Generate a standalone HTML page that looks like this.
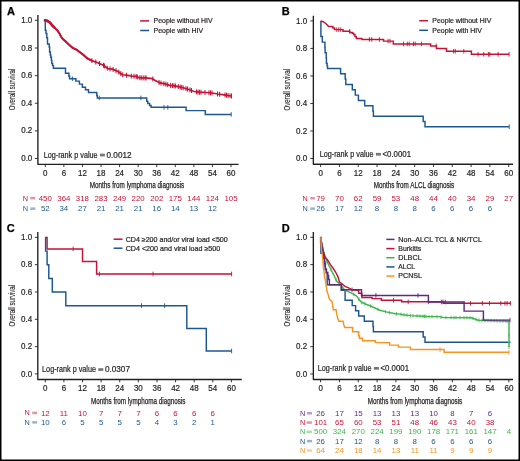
<!DOCTYPE html>
<html><head><meta charset="utf-8"><style>
html,body{margin:0;padding:0;background:#fff;}
#f{position:relative;width:520px;height:461px;overflow:hidden;background:#fff;}
svg{position:absolute;left:0;top:0;will-change:transform;}
text{font-family:"Liberation Sans",sans-serif;}
</style></head><body><div id="f">
<svg width="520" height="461" viewBox="0 0 520 461">
<rect x="0.6" y="0.6" width="518.8" height="459.8" fill="#fff" stroke="#000" stroke-width="1.8"/>
<text x="6.90" y="14.90" font-size="11.0" fill="#000" font-weight="bold" stroke="#000" stroke-width="0.25">A</text>
<text x="281.70" y="14.85" font-size="11.0" fill="#000" font-weight="bold" stroke="#000" stroke-width="0.25">B</text>
<text x="6.70" y="231.85" font-size="11.0" fill="#000" font-weight="bold" stroke="#000" stroke-width="0.25">C</text>
<text x="281.70" y="231.85" font-size="11.0" fill="#000" font-weight="bold" stroke="#000" stroke-width="0.25">D</text>
<path d="M37.90,15.00 V164.30 H238.60" fill="none" stroke="#231f20" stroke-width="1.35" stroke-linejoin="round"/>
<path d="M34.90,158.50 H37.90" stroke="#231f20" stroke-width="0.9"/>
<text x="32.30" y="161.10" font-size="8.3" fill="#231f20" text-anchor="end" textLength="11.11" lengthAdjust="spacingAndGlyphs" stroke="#231f20" stroke-width="0.2">0.0</text>
<path d="M34.90,130.88 H37.90" stroke="#231f20" stroke-width="0.9"/>
<text x="32.30" y="133.48" font-size="8.3" fill="#231f20" text-anchor="end" textLength="11.11" lengthAdjust="spacingAndGlyphs" stroke="#231f20" stroke-width="0.2">0.2</text>
<path d="M34.90,103.26 H37.90" stroke="#231f20" stroke-width="0.9"/>
<text x="32.30" y="105.86" font-size="8.3" fill="#231f20" text-anchor="end" textLength="11.11" lengthAdjust="spacingAndGlyphs" stroke="#231f20" stroke-width="0.2">0.4</text>
<path d="M34.90,75.64 H37.90" stroke="#231f20" stroke-width="0.9"/>
<text x="32.30" y="78.24" font-size="8.3" fill="#231f20" text-anchor="end" textLength="11.11" lengthAdjust="spacingAndGlyphs" stroke="#231f20" stroke-width="0.2">0.6</text>
<path d="M34.90,48.02 H37.90" stroke="#231f20" stroke-width="0.9"/>
<text x="32.30" y="50.62" font-size="8.3" fill="#231f20" text-anchor="end" textLength="11.11" lengthAdjust="spacingAndGlyphs" stroke="#231f20" stroke-width="0.2">0.8</text>
<path d="M34.90,20.40 H37.90" stroke="#231f20" stroke-width="0.9"/>
<text x="32.30" y="23.00" font-size="8.3" fill="#231f20" text-anchor="end" textLength="11.11" lengthAdjust="spacingAndGlyphs" stroke="#231f20" stroke-width="0.2">1.0</text>
<path d="M45.30,164.30 V167.10" stroke="#231f20" stroke-width="0.9"/>
<text x="45.30" y="176.10" font-size="8.3" fill="#231f20" text-anchor="middle" textLength="4.44" lengthAdjust="spacingAndGlyphs" stroke="#231f20" stroke-width="0.2">0</text>
<path d="M63.87,164.30 V167.10" stroke="#231f20" stroke-width="0.9"/>
<text x="63.87" y="176.10" font-size="8.3" fill="#231f20" text-anchor="middle" textLength="4.44" lengthAdjust="spacingAndGlyphs" stroke="#231f20" stroke-width="0.2">6</text>
<path d="M82.44,164.30 V167.10" stroke="#231f20" stroke-width="0.9"/>
<text x="82.44" y="176.10" font-size="8.3" fill="#231f20" text-anchor="middle" textLength="8.89" lengthAdjust="spacingAndGlyphs" stroke="#231f20" stroke-width="0.2">12</text>
<path d="M101.01,164.30 V167.10" stroke="#231f20" stroke-width="0.9"/>
<text x="101.01" y="176.10" font-size="8.3" fill="#231f20" text-anchor="middle" textLength="8.89" lengthAdjust="spacingAndGlyphs" stroke="#231f20" stroke-width="0.2">18</text>
<path d="M119.58,164.30 V167.10" stroke="#231f20" stroke-width="0.9"/>
<text x="119.58" y="176.10" font-size="8.3" fill="#231f20" text-anchor="middle" textLength="8.89" lengthAdjust="spacingAndGlyphs" stroke="#231f20" stroke-width="0.2">24</text>
<path d="M138.15,164.30 V167.10" stroke="#231f20" stroke-width="0.9"/>
<text x="138.15" y="176.10" font-size="8.3" fill="#231f20" text-anchor="middle" textLength="8.89" lengthAdjust="spacingAndGlyphs" stroke="#231f20" stroke-width="0.2">30</text>
<path d="M156.72,164.30 V167.10" stroke="#231f20" stroke-width="0.9"/>
<text x="156.72" y="176.10" font-size="8.3" fill="#231f20" text-anchor="middle" textLength="8.89" lengthAdjust="spacingAndGlyphs" stroke="#231f20" stroke-width="0.2">36</text>
<path d="M175.29,164.30 V167.10" stroke="#231f20" stroke-width="0.9"/>
<text x="175.29" y="176.10" font-size="8.3" fill="#231f20" text-anchor="middle" textLength="8.89" lengthAdjust="spacingAndGlyphs" stroke="#231f20" stroke-width="0.2">42</text>
<path d="M193.86,164.30 V167.10" stroke="#231f20" stroke-width="0.9"/>
<text x="193.86" y="176.10" font-size="8.3" fill="#231f20" text-anchor="middle" textLength="8.89" lengthAdjust="spacingAndGlyphs" stroke="#231f20" stroke-width="0.2">48</text>
<path d="M212.43,164.30 V167.10" stroke="#231f20" stroke-width="0.9"/>
<text x="212.43" y="176.10" font-size="8.3" fill="#231f20" text-anchor="middle" textLength="8.89" lengthAdjust="spacingAndGlyphs" stroke="#231f20" stroke-width="0.2">54</text>
<path d="M231.00,164.30 V167.10" stroke="#231f20" stroke-width="0.9"/>
<text x="231.00" y="176.10" font-size="8.3" fill="#231f20" text-anchor="middle" textLength="8.89" lengthAdjust="spacingAndGlyphs" stroke="#231f20" stroke-width="0.2">60</text>
<text x="137.00" y="187.60" font-size="8.5" fill="#231f20" text-anchor="middle" textLength="94.50" lengthAdjust="spacingAndGlyphs" stroke="#231f20" stroke-width="0.25">Months from lymphoma diagnosis</text>
<text transform="translate(14.60,89.45) rotate(-90)" x="0" y="0" font-size="9.3" fill="#231f20" stroke="#231f20" stroke-width="0.12" text-anchor="middle" textLength="41.5" lengthAdjust="spacingAndGlyphs">Overall survival</text>
<path d="M313.35,15.80 V164.20 H513.00" fill="none" stroke="#231f20" stroke-width="1.35" stroke-linejoin="round"/>
<path d="M310.35,158.50 H313.35" stroke="#231f20" stroke-width="0.9"/>
<text x="307.15" y="161.10" font-size="8.3" fill="#231f20" text-anchor="end" textLength="11.11" lengthAdjust="spacingAndGlyphs" stroke="#231f20" stroke-width="0.2">0.0</text>
<path d="M310.35,130.98 H313.35" stroke="#231f20" stroke-width="0.9"/>
<text x="307.15" y="133.58" font-size="8.3" fill="#231f20" text-anchor="end" textLength="11.11" lengthAdjust="spacingAndGlyphs" stroke="#231f20" stroke-width="0.2">0.2</text>
<path d="M310.35,103.46 H313.35" stroke="#231f20" stroke-width="0.9"/>
<text x="307.15" y="106.06" font-size="8.3" fill="#231f20" text-anchor="end" textLength="11.11" lengthAdjust="spacingAndGlyphs" stroke="#231f20" stroke-width="0.2">0.4</text>
<path d="M310.35,75.94 H313.35" stroke="#231f20" stroke-width="0.9"/>
<text x="307.15" y="78.54" font-size="8.3" fill="#231f20" text-anchor="end" textLength="11.11" lengthAdjust="spacingAndGlyphs" stroke="#231f20" stroke-width="0.2">0.6</text>
<path d="M310.35,48.42 H313.35" stroke="#231f20" stroke-width="0.9"/>
<text x="307.15" y="51.02" font-size="8.3" fill="#231f20" text-anchor="end" textLength="11.11" lengthAdjust="spacingAndGlyphs" stroke="#231f20" stroke-width="0.2">0.8</text>
<path d="M310.35,20.90 H313.35" stroke="#231f20" stroke-width="0.9"/>
<text x="307.15" y="23.50" font-size="8.3" fill="#231f20" text-anchor="end" textLength="11.11" lengthAdjust="spacingAndGlyphs" stroke="#231f20" stroke-width="0.2">1.0</text>
<path d="M320.60,164.20 V167.00" stroke="#231f20" stroke-width="0.9"/>
<text x="320.60" y="176.00" font-size="8.3" fill="#231f20" text-anchor="middle" textLength="4.44" lengthAdjust="spacingAndGlyphs" stroke="#231f20" stroke-width="0.2">0</text>
<path d="M339.41,164.20 V167.00" stroke="#231f20" stroke-width="0.9"/>
<text x="339.41" y="176.00" font-size="8.3" fill="#231f20" text-anchor="middle" textLength="4.44" lengthAdjust="spacingAndGlyphs" stroke="#231f20" stroke-width="0.2">6</text>
<path d="M358.22,164.20 V167.00" stroke="#231f20" stroke-width="0.9"/>
<text x="358.22" y="176.00" font-size="8.3" fill="#231f20" text-anchor="middle" textLength="8.89" lengthAdjust="spacingAndGlyphs" stroke="#231f20" stroke-width="0.2">12</text>
<path d="M377.03,164.20 V167.00" stroke="#231f20" stroke-width="0.9"/>
<text x="377.03" y="176.00" font-size="8.3" fill="#231f20" text-anchor="middle" textLength="8.89" lengthAdjust="spacingAndGlyphs" stroke="#231f20" stroke-width="0.2">18</text>
<path d="M395.84,164.20 V167.00" stroke="#231f20" stroke-width="0.9"/>
<text x="395.84" y="176.00" font-size="8.3" fill="#231f20" text-anchor="middle" textLength="8.89" lengthAdjust="spacingAndGlyphs" stroke="#231f20" stroke-width="0.2">24</text>
<path d="M414.65,164.20 V167.00" stroke="#231f20" stroke-width="0.9"/>
<text x="414.65" y="176.00" font-size="8.3" fill="#231f20" text-anchor="middle" textLength="8.89" lengthAdjust="spacingAndGlyphs" stroke="#231f20" stroke-width="0.2">30</text>
<path d="M433.46,164.20 V167.00" stroke="#231f20" stroke-width="0.9"/>
<text x="433.46" y="176.00" font-size="8.3" fill="#231f20" text-anchor="middle" textLength="8.89" lengthAdjust="spacingAndGlyphs" stroke="#231f20" stroke-width="0.2">36</text>
<path d="M452.27,164.20 V167.00" stroke="#231f20" stroke-width="0.9"/>
<text x="452.27" y="176.00" font-size="8.3" fill="#231f20" text-anchor="middle" textLength="8.89" lengthAdjust="spacingAndGlyphs" stroke="#231f20" stroke-width="0.2">42</text>
<path d="M471.08,164.20 V167.00" stroke="#231f20" stroke-width="0.9"/>
<text x="471.08" y="176.00" font-size="8.3" fill="#231f20" text-anchor="middle" textLength="8.89" lengthAdjust="spacingAndGlyphs" stroke="#231f20" stroke-width="0.2">48</text>
<path d="M489.89,164.20 V167.00" stroke="#231f20" stroke-width="0.9"/>
<text x="489.89" y="176.00" font-size="8.3" fill="#231f20" text-anchor="middle" textLength="8.89" lengthAdjust="spacingAndGlyphs" stroke="#231f20" stroke-width="0.2">54</text>
<path d="M508.70,164.20 V167.00" stroke="#231f20" stroke-width="0.9"/>
<text x="508.70" y="176.00" font-size="8.3" fill="#231f20" text-anchor="middle" textLength="8.89" lengthAdjust="spacingAndGlyphs" stroke="#231f20" stroke-width="0.2">60</text>
<text x="414.00" y="187.90" font-size="8.5" fill="#231f20" text-anchor="middle" textLength="80.30" lengthAdjust="spacingAndGlyphs" stroke="#231f20" stroke-width="0.25">Months from ALCL diagnosis</text>
<text transform="translate(290.05,89.70) rotate(-90)" x="0" y="0" font-size="9.3" fill="#231f20" stroke="#231f20" stroke-width="0.12" text-anchor="middle" textLength="41.5" lengthAdjust="spacingAndGlyphs">Overall survival</text>
<path d="M37.80,232.10 V379.50 H241.80" fill="none" stroke="#231f20" stroke-width="1.35" stroke-linejoin="round"/>
<path d="M34.80,373.90 H37.80" stroke="#231f20" stroke-width="0.9"/>
<text x="32.20" y="376.50" font-size="8.3" fill="#231f20" text-anchor="end" textLength="11.11" lengthAdjust="spacingAndGlyphs" stroke="#231f20" stroke-width="0.2">0.0</text>
<path d="M34.80,346.60 H37.80" stroke="#231f20" stroke-width="0.9"/>
<text x="32.20" y="349.20" font-size="8.3" fill="#231f20" text-anchor="end" textLength="11.11" lengthAdjust="spacingAndGlyphs" stroke="#231f20" stroke-width="0.2">0.2</text>
<path d="M34.80,319.30 H37.80" stroke="#231f20" stroke-width="0.9"/>
<text x="32.20" y="321.90" font-size="8.3" fill="#231f20" text-anchor="end" textLength="11.11" lengthAdjust="spacingAndGlyphs" stroke="#231f20" stroke-width="0.2">0.4</text>
<path d="M34.80,292.00 H37.80" stroke="#231f20" stroke-width="0.9"/>
<text x="32.20" y="294.60" font-size="8.3" fill="#231f20" text-anchor="end" textLength="11.11" lengthAdjust="spacingAndGlyphs" stroke="#231f20" stroke-width="0.2">0.6</text>
<path d="M34.80,264.70 H37.80" stroke="#231f20" stroke-width="0.9"/>
<text x="32.20" y="267.30" font-size="8.3" fill="#231f20" text-anchor="end" textLength="11.11" lengthAdjust="spacingAndGlyphs" stroke="#231f20" stroke-width="0.2">0.8</text>
<path d="M34.80,237.40 H37.80" stroke="#231f20" stroke-width="0.9"/>
<text x="32.20" y="240.00" font-size="8.3" fill="#231f20" text-anchor="end" textLength="11.11" lengthAdjust="spacingAndGlyphs" stroke="#231f20" stroke-width="0.2">1.0</text>
<path d="M45.30,379.50 V382.30" stroke="#231f20" stroke-width="0.9"/>
<text x="45.30" y="391.30" font-size="8.3" fill="#231f20" text-anchor="middle" textLength="4.44" lengthAdjust="spacingAndGlyphs" stroke="#231f20" stroke-width="0.2">0</text>
<path d="M63.91,379.50 V382.30" stroke="#231f20" stroke-width="0.9"/>
<text x="63.91" y="391.30" font-size="8.3" fill="#231f20" text-anchor="middle" textLength="4.44" lengthAdjust="spacingAndGlyphs" stroke="#231f20" stroke-width="0.2">6</text>
<path d="M82.52,379.50 V382.30" stroke="#231f20" stroke-width="0.9"/>
<text x="82.52" y="391.30" font-size="8.3" fill="#231f20" text-anchor="middle" textLength="8.89" lengthAdjust="spacingAndGlyphs" stroke="#231f20" stroke-width="0.2">12</text>
<path d="M101.13,379.50 V382.30" stroke="#231f20" stroke-width="0.9"/>
<text x="101.13" y="391.30" font-size="8.3" fill="#231f20" text-anchor="middle" textLength="8.89" lengthAdjust="spacingAndGlyphs" stroke="#231f20" stroke-width="0.2">18</text>
<path d="M119.74,379.50 V382.30" stroke="#231f20" stroke-width="0.9"/>
<text x="119.74" y="391.30" font-size="8.3" fill="#231f20" text-anchor="middle" textLength="8.89" lengthAdjust="spacingAndGlyphs" stroke="#231f20" stroke-width="0.2">24</text>
<path d="M138.35,379.50 V382.30" stroke="#231f20" stroke-width="0.9"/>
<text x="138.35" y="391.30" font-size="8.3" fill="#231f20" text-anchor="middle" textLength="8.89" lengthAdjust="spacingAndGlyphs" stroke="#231f20" stroke-width="0.2">30</text>
<path d="M156.96,379.50 V382.30" stroke="#231f20" stroke-width="0.9"/>
<text x="156.96" y="391.30" font-size="8.3" fill="#231f20" text-anchor="middle" textLength="8.89" lengthAdjust="spacingAndGlyphs" stroke="#231f20" stroke-width="0.2">36</text>
<path d="M175.57,379.50 V382.30" stroke="#231f20" stroke-width="0.9"/>
<text x="175.57" y="391.30" font-size="8.3" fill="#231f20" text-anchor="middle" textLength="8.89" lengthAdjust="spacingAndGlyphs" stroke="#231f20" stroke-width="0.2">42</text>
<path d="M194.18,379.50 V382.30" stroke="#231f20" stroke-width="0.9"/>
<text x="194.18" y="391.30" font-size="8.3" fill="#231f20" text-anchor="middle" textLength="8.89" lengthAdjust="spacingAndGlyphs" stroke="#231f20" stroke-width="0.2">48</text>
<path d="M212.79,379.50 V382.30" stroke="#231f20" stroke-width="0.9"/>
<text x="212.79" y="391.30" font-size="8.3" fill="#231f20" text-anchor="middle" textLength="8.89" lengthAdjust="spacingAndGlyphs" stroke="#231f20" stroke-width="0.2">54</text>
<path d="M231.40,379.50 V382.30" stroke="#231f20" stroke-width="0.9"/>
<text x="231.40" y="391.30" font-size="8.3" fill="#231f20" text-anchor="middle" textLength="8.89" lengthAdjust="spacingAndGlyphs" stroke="#231f20" stroke-width="0.2">60</text>
<text x="138.20" y="403.50" font-size="8.5" fill="#231f20" text-anchor="middle" textLength="94.50" lengthAdjust="spacingAndGlyphs" stroke="#231f20" stroke-width="0.25">Months from lymphoma diagnosis</text>
<text transform="translate(14.50,305.65) rotate(-90)" x="0" y="0" font-size="9.3" fill="#231f20" stroke="#231f20" stroke-width="0.12" text-anchor="middle" textLength="41.5" lengthAdjust="spacingAndGlyphs">Overall survival</text>
<path d="M313.35,232.05 V379.50 H513.00" fill="none" stroke="#231f20" stroke-width="1.35" stroke-linejoin="round"/>
<path d="M310.35,374.00 H313.35" stroke="#231f20" stroke-width="0.9"/>
<text x="307.15" y="376.60" font-size="8.3" fill="#231f20" text-anchor="end" textLength="11.11" lengthAdjust="spacingAndGlyphs" stroke="#231f20" stroke-width="0.2">0.0</text>
<path d="M310.35,346.66 H313.35" stroke="#231f20" stroke-width="0.9"/>
<text x="307.15" y="349.26" font-size="8.3" fill="#231f20" text-anchor="end" textLength="11.11" lengthAdjust="spacingAndGlyphs" stroke="#231f20" stroke-width="0.2">0.2</text>
<path d="M310.35,319.32 H313.35" stroke="#231f20" stroke-width="0.9"/>
<text x="307.15" y="321.92" font-size="8.3" fill="#231f20" text-anchor="end" textLength="11.11" lengthAdjust="spacingAndGlyphs" stroke="#231f20" stroke-width="0.2">0.4</text>
<path d="M310.35,291.98 H313.35" stroke="#231f20" stroke-width="0.9"/>
<text x="307.15" y="294.58" font-size="8.3" fill="#231f20" text-anchor="end" textLength="11.11" lengthAdjust="spacingAndGlyphs" stroke="#231f20" stroke-width="0.2">0.6</text>
<path d="M310.35,264.64 H313.35" stroke="#231f20" stroke-width="0.9"/>
<text x="307.15" y="267.24" font-size="8.3" fill="#231f20" text-anchor="end" textLength="11.11" lengthAdjust="spacingAndGlyphs" stroke="#231f20" stroke-width="0.2">0.8</text>
<path d="M310.35,237.30 H313.35" stroke="#231f20" stroke-width="0.9"/>
<text x="307.15" y="239.90" font-size="8.3" fill="#231f20" text-anchor="end" textLength="11.11" lengthAdjust="spacingAndGlyphs" stroke="#231f20" stroke-width="0.2">1.0</text>
<path d="M320.60,379.50 V382.30" stroke="#231f20" stroke-width="0.9"/>
<text x="320.60" y="391.30" font-size="8.3" fill="#231f20" text-anchor="middle" textLength="4.44" lengthAdjust="spacingAndGlyphs" stroke="#231f20" stroke-width="0.2">0</text>
<path d="M339.43,379.50 V382.30" stroke="#231f20" stroke-width="0.9"/>
<text x="339.43" y="391.30" font-size="8.3" fill="#231f20" text-anchor="middle" textLength="4.44" lengthAdjust="spacingAndGlyphs" stroke="#231f20" stroke-width="0.2">6</text>
<path d="M358.26,379.50 V382.30" stroke="#231f20" stroke-width="0.9"/>
<text x="358.26" y="391.30" font-size="8.3" fill="#231f20" text-anchor="middle" textLength="8.89" lengthAdjust="spacingAndGlyphs" stroke="#231f20" stroke-width="0.2">12</text>
<path d="M377.09,379.50 V382.30" stroke="#231f20" stroke-width="0.9"/>
<text x="377.09" y="391.30" font-size="8.3" fill="#231f20" text-anchor="middle" textLength="8.89" lengthAdjust="spacingAndGlyphs" stroke="#231f20" stroke-width="0.2">18</text>
<path d="M395.92,379.50 V382.30" stroke="#231f20" stroke-width="0.9"/>
<text x="395.92" y="391.30" font-size="8.3" fill="#231f20" text-anchor="middle" textLength="8.89" lengthAdjust="spacingAndGlyphs" stroke="#231f20" stroke-width="0.2">24</text>
<path d="M414.75,379.50 V382.30" stroke="#231f20" stroke-width="0.9"/>
<text x="414.75" y="391.30" font-size="8.3" fill="#231f20" text-anchor="middle" textLength="8.89" lengthAdjust="spacingAndGlyphs" stroke="#231f20" stroke-width="0.2">30</text>
<path d="M433.58,379.50 V382.30" stroke="#231f20" stroke-width="0.9"/>
<text x="433.58" y="391.30" font-size="8.3" fill="#231f20" text-anchor="middle" textLength="8.89" lengthAdjust="spacingAndGlyphs" stroke="#231f20" stroke-width="0.2">36</text>
<path d="M452.41,379.50 V382.30" stroke="#231f20" stroke-width="0.9"/>
<text x="452.41" y="391.30" font-size="8.3" fill="#231f20" text-anchor="middle" textLength="8.89" lengthAdjust="spacingAndGlyphs" stroke="#231f20" stroke-width="0.2">42</text>
<path d="M471.24,379.50 V382.30" stroke="#231f20" stroke-width="0.9"/>
<text x="471.24" y="391.30" font-size="8.3" fill="#231f20" text-anchor="middle" textLength="8.89" lengthAdjust="spacingAndGlyphs" stroke="#231f20" stroke-width="0.2">48</text>
<path d="M490.07,379.50 V382.30" stroke="#231f20" stroke-width="0.9"/>
<text x="490.07" y="391.30" font-size="8.3" fill="#231f20" text-anchor="middle" textLength="8.89" lengthAdjust="spacingAndGlyphs" stroke="#231f20" stroke-width="0.2">54</text>
<path d="M508.90,379.50 V382.30" stroke="#231f20" stroke-width="0.9"/>
<text x="508.90" y="391.30" font-size="8.3" fill="#231f20" text-anchor="middle" textLength="8.89" lengthAdjust="spacingAndGlyphs" stroke="#231f20" stroke-width="0.2">60</text>
<text x="415.00" y="403.50" font-size="8.5" fill="#231f20" text-anchor="middle" textLength="94.50" lengthAdjust="spacingAndGlyphs" stroke="#231f20" stroke-width="0.25">Months from lymphoma diagnosis</text>
<text transform="translate(290.05,305.65) rotate(-90)" x="0" y="0" font-size="9.3" fill="#231f20" stroke="#231f20" stroke-width="0.12" text-anchor="middle" textLength="41.5" lengthAdjust="spacingAndGlyphs">Overall survival</text>
<path d="M45.30,20.40 L47.20,20.80 L49.80,22.50 L52.40,25.50 L55.00,28.10 L57.60,30.75 L59.40,33.40 L61.10,36.80 L62.80,39.00 L65.40,41.20 L68.90,44.60 L72.40,47.70 L76.70,49.80 L78.00,50.80 L82.60,54.20 L87.20,58.30 L91.80,60.60 L96.50,62.30 L103.40,65.20 L108.00,68.70 L112.60,69.20 L118.40,71.80 L122.40,74.80 L126.50,75.20 L132.20,76.20 L136.00,76.40 L138.90,77.60 L141.80,77.90 L145.60,77.90 L152.30,78.60 L155.20,80.50 L160.00,82.90 L164.80,83.90 L169.70,85.30 L174.50,85.80 L179.30,86.80 L184.00,88.00 L189.00,89.50 L194.00,91.50 L199.00,92.20 L206.00,92.50 L212.00,93.00 L218.00,94.00 L224.00,94.80 L231.00,96.00" fill="none" stroke="#c51236" stroke-width="1.7" stroke-linejoin="miter"/>
<path d="M45.30,20.40 L47.20,20.80 L49.80,22.50 L52.40,25.50 L55.00,28.10 L57.60,30.75 L59.40,33.40 L61.10,36.80 L62.80,39.00 L65.40,41.20 L68.90,44.60 L72.40,47.70 L76.70,49.80 L78.00,50.80 L82.60,54.20 L87.20,58.30 L91.80,60.60" fill="none" stroke="#c51236" stroke-width="2.0" stroke-linejoin="miter"/>
<path d="M43.80,20.30 L45.30,20.40 L47.20,20.80 L49.80,22.50 L52.40,25.50 L55.00,28.10" fill="none" stroke="#c51236" stroke-width="2.6" stroke-linejoin="miter"/>
<path d="M91.90,58.14 V63.14 M95.80,59.55 V64.55 M99.50,61.06 V66.06 M103.50,62.78 V67.78 M104.40,63.46 V68.46 M107.30,65.67 V70.67 M110.00,66.42 V71.42 M113.10,66.92 V71.92 M116.00,68.22 V73.22 M118.80,69.60 V74.60 M120.80,71.10 V76.10 M122.70,72.33 V77.33 M126.50,72.70 V77.70 M131.30,73.54 V78.54 M134.00,73.79 V78.79 M136.20,73.98 V78.98 M137.40,74.48 V79.48 M139.80,75.19 V80.19 M141.30,75.35 V80.35 M143.20,75.40 V80.40 M145.10,75.40 V80.40 M146.10,75.45 V80.45 M152.80,76.43 V81.43 M159.10,79.95 V84.95 M161.00,80.61 V85.61 M163.90,81.21 V86.21 M165.80,81.69 V86.69 M167.70,82.23 V87.23 M170.60,82.89 V87.89 M172.50,83.09 V88.09 M174.00,83.25 V88.25 M175.40,83.49 V88.49 M178.30,84.09 V89.09 M180.20,84.53 V89.53 M181.70,84.91 V89.91 M183.10,85.27 V90.27 M186.00,86.10 V91.10 M187.50,86.55 V91.55 M190.00,87.40 V92.40 M191.50,88.00 V93.00 M196.50,89.35 V94.35 M198.00,89.56 V94.56 M199.50,89.72 V94.72 M201.00,89.79 V94.79 M205.00,89.96 V94.96 M209.00,90.25 V95.25 M210.50,90.38 V95.38 M212.00,90.50 V95.50 M217.50,91.42 V96.42 M219.50,91.70 V96.70 M225.00,92.47 V97.47 M226.50,92.73 V97.73 M228.00,92.99 V97.99 M230.00,93.33 V98.33 M231.50,93.50 V98.50" stroke="#c51236" stroke-width="1.0"/>
<path d="M45.3,20.4 V30.3 H46 V33.4 H46.8 V37.7 H47.5 V43.9 H49.2 V47 H49.6 V52 H50.3 V55 H50.8 V57.3 H51.4 V60.5 H51.8 V63.4 H52.6 V65.6 H53.4 V68.2 H65.5 V73.3 H68.9 V76.3 H69.6 V78.7 H75.9 V81.1 H79.4 V84.1 H82.4 V87.2 H85.5 V89.8 H88.5 V92.4 H96.8 V95.4 H97.3 V97.9 H146.7 V101.2 H147.8 V103.5 H149.6 V105.4 H151.1 V107.3 H186.1 V110.6 H205.3 V114.4 H231.2" fill="none" stroke="#1d5791" stroke-width="1.45" stroke-linejoin="miter"/>
<path d="M72.40,76.40 V81.00 M99.30,95.60 V100.20 M140.90,95.60 V100.20 M164.00,105.00 V109.60 M167.80,105.00 V109.60 M231.20,112.10 V116.70" stroke="#1d5791" stroke-width="0.9"/>
<path d="M140.20,20.90 H149.10" stroke="#c51236" stroke-width="1.5"/>
<text x="153.60" y="23.20" font-size="6.9" fill="#231f20" textLength="59.00" lengthAdjust="spacingAndGlyphs" stroke="#231f20" stroke-width="0.2">People without HIV</text>
<path d="M140.20,30.50 H149.10" stroke="#1d5791" stroke-width="1.5"/>
<text x="153.60" y="32.80" font-size="6.9" fill="#231f20" textLength="49.50" lengthAdjust="spacingAndGlyphs" stroke="#231f20" stroke-width="0.2">People with HIV</text>
<text x="43.70" y="157.65" font-size="8.2" fill="#231f20" textLength="53.90" lengthAdjust="spacingAndGlyphs" stroke="#231f20" stroke-width="0.2">Log-rank p value</text>
<rect x="99.90" y="153.70" width="5.0" height="2.7" fill="#231f20" fill-opacity="0.62"/>
<text x="106.50" y="157.65" font-size="8.2" fill="#231f20" textLength="25.08" lengthAdjust="spacingAndGlyphs" stroke="#231f20" stroke-width="0.2">0.0012</text>
<text x="22.80" y="200.50" font-size="7.6" fill="#c51236" textLength="5.27" lengthAdjust="spacingAndGlyphs" stroke="none">N</text>
<rect x="30.30" y="196.90" width="5.00" height="2.5" fill="#c51236" fill-opacity="0.45"/>
<text x="45.30" y="200.70" font-size="7.6" fill="#c51236" text-anchor="middle" textLength="13.15" lengthAdjust="spacingAndGlyphs" stroke="none">450</text>
<text x="63.87" y="200.70" font-size="7.6" fill="#c51236" text-anchor="middle" textLength="13.15" lengthAdjust="spacingAndGlyphs" stroke="none">364</text>
<text x="82.44" y="200.70" font-size="7.6" fill="#c51236" text-anchor="middle" textLength="13.15" lengthAdjust="spacingAndGlyphs" stroke="none">318</text>
<text x="101.01" y="200.70" font-size="7.6" fill="#c51236" text-anchor="middle" textLength="13.15" lengthAdjust="spacingAndGlyphs" stroke="none">283</text>
<text x="119.58" y="200.70" font-size="7.6" fill="#c51236" text-anchor="middle" textLength="13.15" lengthAdjust="spacingAndGlyphs" stroke="none">249</text>
<text x="138.15" y="200.70" font-size="7.6" fill="#c51236" text-anchor="middle" textLength="13.15" lengthAdjust="spacingAndGlyphs" stroke="none">220</text>
<text x="156.72" y="200.70" font-size="7.6" fill="#c51236" text-anchor="middle" textLength="13.15" lengthAdjust="spacingAndGlyphs" stroke="none">202</text>
<text x="175.29" y="200.70" font-size="7.6" fill="#c51236" text-anchor="middle" textLength="13.15" lengthAdjust="spacingAndGlyphs" stroke="none">175</text>
<text x="193.86" y="200.70" font-size="7.6" fill="#c51236" text-anchor="middle" textLength="13.15" lengthAdjust="spacingAndGlyphs" stroke="none">144</text>
<text x="212.43" y="200.70" font-size="7.6" fill="#c51236" text-anchor="middle" textLength="13.15" lengthAdjust="spacingAndGlyphs" stroke="none">124</text>
<text x="231.00" y="200.70" font-size="7.6" fill="#c51236" text-anchor="middle" textLength="13.15" lengthAdjust="spacingAndGlyphs" stroke="none">105</text>
<text x="22.80" y="211.00" font-size="7.6" fill="#1d5791" textLength="5.27" lengthAdjust="spacingAndGlyphs" stroke="none">N</text>
<rect x="30.30" y="207.40" width="5.00" height="2.5" fill="#1d5791" fill-opacity="0.45"/>
<text x="45.30" y="211.20" font-size="7.6" fill="#1d5791" text-anchor="middle" textLength="8.77" lengthAdjust="spacingAndGlyphs" stroke="none">52</text>
<text x="63.87" y="211.20" font-size="7.6" fill="#1d5791" text-anchor="middle" textLength="8.77" lengthAdjust="spacingAndGlyphs" stroke="none">34</text>
<text x="82.44" y="211.20" font-size="7.6" fill="#1d5791" text-anchor="middle" textLength="8.77" lengthAdjust="spacingAndGlyphs" stroke="none">27</text>
<text x="101.01" y="211.20" font-size="7.6" fill="#1d5791" text-anchor="middle" textLength="8.77" lengthAdjust="spacingAndGlyphs" stroke="none">21</text>
<text x="119.58" y="211.20" font-size="7.6" fill="#1d5791" text-anchor="middle" textLength="8.77" lengthAdjust="spacingAndGlyphs" stroke="none">21</text>
<text x="138.15" y="211.20" font-size="7.6" fill="#1d5791" text-anchor="middle" textLength="8.77" lengthAdjust="spacingAndGlyphs" stroke="none">21</text>
<text x="156.72" y="211.20" font-size="7.6" fill="#1d5791" text-anchor="middle" textLength="8.77" lengthAdjust="spacingAndGlyphs" stroke="none">16</text>
<text x="175.29" y="211.20" font-size="7.6" fill="#1d5791" text-anchor="middle" textLength="8.77" lengthAdjust="spacingAndGlyphs" stroke="none">14</text>
<text x="193.86" y="211.20" font-size="7.6" fill="#1d5791" text-anchor="middle" textLength="8.77" lengthAdjust="spacingAndGlyphs" stroke="none">13</text>
<text x="212.43" y="211.20" font-size="7.6" fill="#1d5791" text-anchor="middle" textLength="8.77" lengthAdjust="spacingAndGlyphs" stroke="none">12</text>
<path d="M320.6,20.9 L321.9,21.25 L323.8,22.2 L325.8,23.5 L327.7,25.4 L328.4,26.5 H332.9 V28 H334.6 V29.6 H343 V31.3 H349.8 V32.6 H352.3 V33.3 H353.6 V34.5 H355 V36.5 H356.3 V38.5 H361.9 V39.4 H383.6 V41.1 H393.3 V43.9 H430.6 V45.9 H436.5 V48.4 H446.5 V51.2 H471.4 V54.3 H509.1" fill="none" stroke="#c51236" stroke-width="1.45" stroke-linejoin="miter"/>
<path d="M336.80,27.30 V31.90 M338.80,27.30 V31.90 M340.70,27.30 V31.90 M349.60,29.00 V33.60 M369.40,37.10 V41.70 M371.70,37.10 V41.70 M379.40,37.10 V41.70 M388.10,38.80 V43.40 M390.00,38.80 V43.40 M403.50,41.60 V46.20 M407.30,41.60 V46.20 M409.20,41.60 V46.20 M413.50,41.60 V46.20 M415.20,41.60 V46.20 M421.50,41.60 V46.20 M436.20,43.60 V48.20 M453.70,48.90 V53.50 M455.30,48.90 V53.50 M463.80,48.90 V53.50 M478.00,52.00 V56.60 M483.70,52.00 V56.60 M488.60,52.00 V56.60 M489.80,52.00 V56.60 M498.10,52.00 V56.60 M509.10,52.00 V56.60" stroke="#c51236" stroke-width="0.9"/>
<path d="M320.9,20.9 V36.5 H322.3 V42.1 H324.9 V47.5 H325.1 V52.8 H326.2 V58 H326.4 V63.2 H327.1 V65.8 H327.5 V68.5 H340.6 V73.8 H345.2 V79 H345.8 V84.5 H352.3 V89.7 H355.3 V95.1 H358.4 V100.4 H364.7 V105.7 H372.9 V111 H373.4 V116.3 H423.2 V121.4 H425 V126.7 H509.2" fill="none" stroke="#1d5791" stroke-width="1.45" stroke-linejoin="miter"/>
<path d="M509.20,124.40 V129.00" stroke="#1d5791" stroke-width="0.9"/>
<path d="M419.20,20.70 H428.10" stroke="#c51236" stroke-width="1.5"/>
<text x="432.30" y="23.00" font-size="6.9" fill="#231f20" textLength="59.00" lengthAdjust="spacingAndGlyphs" stroke="#231f20" stroke-width="0.2">People without HIV</text>
<path d="M419.20,30.30 H428.10" stroke="#1d5791" stroke-width="1.5"/>
<text x="432.30" y="32.60" font-size="6.9" fill="#231f20" textLength="49.50" lengthAdjust="spacingAndGlyphs" stroke="#231f20" stroke-width="0.2">People with HIV</text>
<text x="319.70" y="156.85" font-size="8.2" fill="#231f20" textLength="53.90" lengthAdjust="spacingAndGlyphs" stroke="#231f20" stroke-width="0.2">Log-rank p value</text>
<rect x="375.90" y="152.90" width="5.0" height="2.7" fill="#231f20" fill-opacity="0.62"/>
<text x="382.50" y="156.85" font-size="8.2" fill="#231f20" textLength="28.52" lengthAdjust="spacingAndGlyphs" stroke="#231f20" stroke-width="0.2">&lt;0.0001</text>
<text x="302.40" y="200.60" font-size="7.6" fill="#c51236" textLength="5.27" lengthAdjust="spacingAndGlyphs" stroke="none">N</text>
<rect x="310.30" y="197.00" width="4.60" height="2.5" fill="#c51236" fill-opacity="0.45"/>
<text x="320.60" y="200.80" font-size="7.6" fill="#c51236" text-anchor="middle" textLength="8.77" lengthAdjust="spacingAndGlyphs" stroke="none">79</text>
<text x="339.41" y="200.80" font-size="7.6" fill="#c51236" text-anchor="middle" textLength="8.77" lengthAdjust="spacingAndGlyphs" stroke="none">70</text>
<text x="358.22" y="200.80" font-size="7.6" fill="#c51236" text-anchor="middle" textLength="8.77" lengthAdjust="spacingAndGlyphs" stroke="none">62</text>
<text x="377.03" y="200.80" font-size="7.6" fill="#c51236" text-anchor="middle" textLength="8.77" lengthAdjust="spacingAndGlyphs" stroke="none">59</text>
<text x="395.84" y="200.80" font-size="7.6" fill="#c51236" text-anchor="middle" textLength="8.77" lengthAdjust="spacingAndGlyphs" stroke="none">53</text>
<text x="414.65" y="200.80" font-size="7.6" fill="#c51236" text-anchor="middle" textLength="8.77" lengthAdjust="spacingAndGlyphs" stroke="none">48</text>
<text x="433.46" y="200.80" font-size="7.6" fill="#c51236" text-anchor="middle" textLength="8.77" lengthAdjust="spacingAndGlyphs" stroke="none">44</text>
<text x="452.27" y="200.80" font-size="7.6" fill="#c51236" text-anchor="middle" textLength="8.77" lengthAdjust="spacingAndGlyphs" stroke="none">40</text>
<text x="471.08" y="200.80" font-size="7.6" fill="#c51236" text-anchor="middle" textLength="8.77" lengthAdjust="spacingAndGlyphs" stroke="none">34</text>
<text x="489.89" y="200.80" font-size="7.6" fill="#c51236" text-anchor="middle" textLength="8.77" lengthAdjust="spacingAndGlyphs" stroke="none">29</text>
<text x="508.70" y="200.80" font-size="7.6" fill="#c51236" text-anchor="middle" textLength="8.77" lengthAdjust="spacingAndGlyphs" stroke="none">27</text>
<text x="302.40" y="211.00" font-size="7.6" fill="#1d5791" textLength="5.27" lengthAdjust="spacingAndGlyphs" stroke="none">N</text>
<rect x="310.30" y="207.40" width="4.60" height="2.5" fill="#1d5791" fill-opacity="0.45"/>
<text x="320.60" y="211.20" font-size="7.6" fill="#1d5791" text-anchor="middle" textLength="8.77" lengthAdjust="spacingAndGlyphs" stroke="none">26</text>
<text x="339.41" y="211.20" font-size="7.6" fill="#1d5791" text-anchor="middle" textLength="8.77" lengthAdjust="spacingAndGlyphs" stroke="none">17</text>
<text x="358.22" y="211.20" font-size="7.6" fill="#1d5791" text-anchor="middle" textLength="8.77" lengthAdjust="spacingAndGlyphs" stroke="none">12</text>
<text x="377.03" y="211.20" font-size="7.6" fill="#1d5791" text-anchor="middle" textLength="4.38" lengthAdjust="spacingAndGlyphs" stroke="none">8</text>
<text x="395.84" y="211.20" font-size="7.6" fill="#1d5791" text-anchor="middle" textLength="4.38" lengthAdjust="spacingAndGlyphs" stroke="none">8</text>
<text x="414.65" y="211.20" font-size="7.6" fill="#1d5791" text-anchor="middle" textLength="4.38" lengthAdjust="spacingAndGlyphs" stroke="none">8</text>
<text x="433.46" y="211.20" font-size="7.6" fill="#1d5791" text-anchor="middle" textLength="4.38" lengthAdjust="spacingAndGlyphs" stroke="none">6</text>
<text x="452.27" y="211.20" font-size="7.6" fill="#1d5791" text-anchor="middle" textLength="4.38" lengthAdjust="spacingAndGlyphs" stroke="none">6</text>
<text x="471.08" y="211.20" font-size="7.6" fill="#1d5791" text-anchor="middle" textLength="4.38" lengthAdjust="spacingAndGlyphs" stroke="none">6</text>
<text x="489.89" y="211.20" font-size="7.6" fill="#1d5791" text-anchor="middle" textLength="4.38" lengthAdjust="spacingAndGlyphs" stroke="none">6</text>
<path d="M45.3,237.4 H47.1 V248.9 H82.5 V261.4 H96.6 V274.0 H231.6" fill="none" stroke="#c51236" stroke-width="1.45" stroke-linejoin="miter"/>
<path d="M73.10,246.60 V251.20 M99.40,271.70 V276.30 M153.00,271.70 V276.30 M231.60,271.70 V276.30" stroke="#c51236" stroke-width="0.9"/>
<path d="M45.3,237.4 H45.6 V251.1 H47.1 V264.8 H48.8 V278.4 H52.3 V291.9 H65.8 V305.7 H186.8 V328.4 H206.3 V351.0 H231.6" fill="none" stroke="#1d5791" stroke-width="1.45" stroke-linejoin="miter"/>
<path d="M141.50,303.40 V308.00 M164.60,303.40 V308.00 M231.60,348.70 V353.30" stroke="#1d5791" stroke-width="0.9"/>
<path d="M113.60,239.20 H122.50" stroke="#c51236" stroke-width="1.5"/>
<text x="125.70" y="241.50" font-size="6.9" fill="#231f20" textLength="102.00" lengthAdjust="spacingAndGlyphs" stroke="#231f20" stroke-width="0.2">CD4 ≥200 and/or viral load &lt;500</text>
<path d="M113.60,248.20 H122.50" stroke="#1d5791" stroke-width="1.5"/>
<text x="125.70" y="250.50" font-size="6.9" fill="#231f20" textLength="94.60" lengthAdjust="spacingAndGlyphs" stroke="#231f20" stroke-width="0.2">CD4 &lt;200 and viral load ≥500</text>
<text x="42.10" y="372.15" font-size="8.2" fill="#231f20" textLength="53.90" lengthAdjust="spacingAndGlyphs" stroke="#231f20" stroke-width="0.2">Log-rank p value</text>
<rect x="98.30" y="368.20" width="5.0" height="2.7" fill="#231f20" fill-opacity="0.62"/>
<text x="104.90" y="372.15" font-size="8.2" fill="#231f20" textLength="25.08" lengthAdjust="spacingAndGlyphs" stroke="#231f20" stroke-width="0.2">0.0307</text>
<text x="24.50" y="415.30" font-size="7.6" fill="#c51236" textLength="5.27" lengthAdjust="spacingAndGlyphs" stroke="none">N</text>
<rect x="32.20" y="411.70" width="4.80" height="2.5" fill="#c51236" fill-opacity="0.45"/>
<text x="45.30" y="415.50" font-size="7.6" fill="#c51236" text-anchor="middle" textLength="8.77" lengthAdjust="spacingAndGlyphs" stroke="none">12</text>
<text x="63.91" y="415.50" font-size="7.6" fill="#c51236" text-anchor="middle" textLength="8.18" lengthAdjust="spacingAndGlyphs" stroke="none">11</text>
<text x="82.52" y="415.50" font-size="7.6" fill="#c51236" text-anchor="middle" textLength="8.77" lengthAdjust="spacingAndGlyphs" stroke="none">10</text>
<text x="101.13" y="415.50" font-size="7.6" fill="#c51236" text-anchor="middle" textLength="4.38" lengthAdjust="spacingAndGlyphs" stroke="none">7</text>
<text x="119.74" y="415.50" font-size="7.6" fill="#c51236" text-anchor="middle" textLength="4.38" lengthAdjust="spacingAndGlyphs" stroke="none">7</text>
<text x="138.35" y="415.50" font-size="7.6" fill="#c51236" text-anchor="middle" textLength="4.38" lengthAdjust="spacingAndGlyphs" stroke="none">7</text>
<text x="156.96" y="415.50" font-size="7.6" fill="#c51236" text-anchor="middle" textLength="4.38" lengthAdjust="spacingAndGlyphs" stroke="none">6</text>
<text x="175.57" y="415.50" font-size="7.6" fill="#c51236" text-anchor="middle" textLength="4.38" lengthAdjust="spacingAndGlyphs" stroke="none">6</text>
<text x="194.18" y="415.50" font-size="7.6" fill="#c51236" text-anchor="middle" textLength="4.38" lengthAdjust="spacingAndGlyphs" stroke="none">6</text>
<text x="212.79" y="415.50" font-size="7.6" fill="#c51236" text-anchor="middle" textLength="4.38" lengthAdjust="spacingAndGlyphs" stroke="none">6</text>
<text x="24.50" y="424.70" font-size="7.6" fill="#1d5791" textLength="5.27" lengthAdjust="spacingAndGlyphs" stroke="none">N</text>
<rect x="32.20" y="421.10" width="4.80" height="2.5" fill="#1d5791" fill-opacity="0.45"/>
<text x="45.30" y="424.90" font-size="7.6" fill="#1d5791" text-anchor="middle" textLength="8.77" lengthAdjust="spacingAndGlyphs" stroke="none">10</text>
<text x="63.91" y="424.90" font-size="7.6" fill="#1d5791" text-anchor="middle" textLength="4.38" lengthAdjust="spacingAndGlyphs" stroke="none">6</text>
<text x="82.52" y="424.90" font-size="7.6" fill="#1d5791" text-anchor="middle" textLength="4.38" lengthAdjust="spacingAndGlyphs" stroke="none">5</text>
<text x="101.13" y="424.90" font-size="7.6" fill="#1d5791" text-anchor="middle" textLength="4.38" lengthAdjust="spacingAndGlyphs" stroke="none">5</text>
<text x="119.74" y="424.90" font-size="7.6" fill="#1d5791" text-anchor="middle" textLength="4.38" lengthAdjust="spacingAndGlyphs" stroke="none">5</text>
<text x="138.35" y="424.90" font-size="7.6" fill="#1d5791" text-anchor="middle" textLength="4.38" lengthAdjust="spacingAndGlyphs" stroke="none">5</text>
<text x="156.96" y="424.90" font-size="7.6" fill="#1d5791" text-anchor="middle" textLength="4.38" lengthAdjust="spacingAndGlyphs" stroke="none">4</text>
<text x="175.57" y="424.90" font-size="7.6" fill="#1d5791" text-anchor="middle" textLength="4.38" lengthAdjust="spacingAndGlyphs" stroke="none">3</text>
<text x="194.18" y="424.90" font-size="7.6" fill="#1d5791" text-anchor="middle" textLength="4.38" lengthAdjust="spacingAndGlyphs" stroke="none">2</text>
<text x="212.79" y="424.90" font-size="7.6" fill="#1d5791" text-anchor="middle" textLength="4.38" lengthAdjust="spacingAndGlyphs" stroke="none">1</text>
<path d="M320.6,237.3 H320.9 V253.2 H323 V257.5 H324.5 V261.8 H325 V266 H325.3 V269.5 H326.5 V273 H327.2 V284.7 H341.3 V290.2 H345.1 V300.3 H352.2 V305.6 H355.6 V310.8 H358.7 V316.0 H364.3 V321.2 H373.0 V326.5 H373.4 V331.8 H423.2 V337 H425 V342.3 H510.5" fill="none" stroke="#1d5590" stroke-width="1.45" stroke-linejoin="miter"/>
<path d="M320.60,237.30 L321.80,243.60 L322.80,248.40 L324.70,255.10 L327.60,262.80 L330.40,268.50 L333.30,274.20 L335.70,279.00 L336.60,281.20 L339.90,284.10 L342.50,287.50 L345.00,290.20 L351.50,293.20 L355.90,295.50 L357.60,297.20 L359.50,300.20 L361.90,302.50 L363.50,303.00 L367.30,304.80 L371.70,306.50 L376.00,308.50 L380.00,310.30 L386.20,311.90 L395.40,313.70 L400.00,314.10 L403.00,314.70 L410.80,315.60 L422.50,316.20 L429.00,316.60 L438.20,316.60 L443.40,317.50 L471.20,317.70 L478.20,320.30 L509.00,321.20 V347.1" fill="none" stroke="#3db54a" stroke-width="1.45" stroke-linejoin="miter"/>
<path d="M323.50,249.07 V252.67 M327.00,259.41 V263.01 M331.00,267.88 V271.48 M336.00,277.93 V281.53 M343.00,286.24 V289.84 M353.80,292.60 V296.20 M359.00,297.61 V301.21 M361.90,300.70 V304.30 M364.80,301.82 V305.42 M370.60,304.27 V307.88 M378.10,307.64 V311.25 M385.60,309.95 V313.55 M389.60,310.77 V314.37 M396.50,312.00 V315.60 M401.00,312.50 V316.10 M404.00,313.02 V316.62 M407.00,313.36 V316.96 M410.50,313.77 V317.37 M413.00,313.91 V317.51 M417.00,314.12 V317.72 M420.00,314.27 V317.87 M423.00,314.43 V318.03 M424.50,314.52 V318.12 M426.00,314.62 V318.22 M429.00,314.80 V318.40 M432.00,314.80 V318.40 M437.00,314.80 V318.40 M441.00,315.28 V318.88 M446.00,315.72 V319.32 M451.00,315.75 V319.35 M454.00,315.78 V319.38 M456.00,315.79 V319.39 M460.00,315.82 V319.42 M464.00,315.85 V319.45 M467.00,315.87 V319.47 M470.00,315.89 V319.49 M473.00,316.57 V320.17 M476.00,317.68 V321.28 M479.00,318.52 V322.12 M482.00,318.61 V322.21 M485.00,318.70 V322.30 M488.00,318.79 V322.39 M491.00,318.87 V322.47 M494.00,318.96 V322.56 M497.00,319.05 V322.65 M500.00,319.14 V322.74 M503.00,319.22 V322.82 M506.00,319.31 V322.91 M508.00,319.37 V322.97 M509.00,333.20 V336.80 M509.00,345.30 V348.90" stroke="#3db54a" stroke-width="0.8"/>
<path d="M320.6,237.3 L321.5,243 L322.8,250.3 L324.7,257 L327.6,259.9 L330.4,264.7 L333.3,268.5 L335.7,272.3 L338.1,277.1 L339.3,281.8 L341.6,283.5 L345,286.4 L349.1,288.1 L352,289.8 L358.7,290.6 V293.3 H361.9 V297.4 H372 V298.6 H381.4 V300.3 H401.7 V301.8 H443.4 V303.3 H510.6" fill="none" stroke="#c51236" stroke-width="1.45" stroke-linejoin="miter"/>
<path d="M352.00,287.50 V292.10 M393.50,298.00 V302.60 M408.20,299.50 V304.10 M428.40,299.50 V304.10 M443.00,299.50 V304.10 M470.50,301.00 V305.60 M482.40,301.00 V305.60 M489.50,301.00 V305.60 M500.80,301.00 V305.60 M505.00,301.00 V305.60 M507.10,301.00 V305.60 M510.40,301.00 V305.60" stroke="#c51236" stroke-width="0.9"/>
<path d="M320.6,237.3 V242.6 H321.6 V247.9 H322.6 V253.1 H323.6 V258.4 H324.4 V263.7 H325.4 V268.9 H326.2 V272.5 H327.8 V275.5 H328.6 V279.5 H329.4 V284.7 H341.4 V289.8 H361.5 V295.4 H428.4 V302.0 H464.1 V311.1 H483.4 V320.1 H510" fill="none" stroke="#5e2a84" stroke-width="1.45" stroke-linejoin="miter"/>
<path d="M375.90,293.10 V297.70 M418.00,293.10 V297.70 M441.40,299.70 V304.30 M445.30,299.70 V304.30 M510.00,317.80 V322.40" stroke="#5e2a84" stroke-width="0.9"/>
<path d="M320.6,237.3 L320.9,238.1 L321.5,250 L322.3,255 L323.5,268 L324.7,277.5 L325.3,280 L326.1,285.4 L326.9,290.8 L328,294.1 L329,297.9 L330.1,300.1 L331.8,301.1 L332.3,302.8 L332.8,307.1 L333.4,309.8 H336.1 L336.6,313.6 L337.7,318 L338.8,321.2 H343.1 L343.7,324.5 L344.8,327.4 H352.6 V331.7 H358.7 V336 H359.5 V338.2 H362.6 V340.7 H375.4 V342.6 H389.6 V345.1 H398.4 V347.1 H410.4 V349.5 H444.1 V352.2 H509" fill="none" stroke="#f7941d" stroke-width="1.45" stroke-linejoin="miter"/>
<path d="M440.00,347.20 V351.80 M509.00,349.90 V354.50" stroke="#f7941d" stroke-width="0.9"/>
<path d="M386.30,239.40 H394.50" stroke="#5e2a84" stroke-width="1.5"/>
<text x="398.30" y="241.70" font-size="6.9" fill="#231f20" textLength="83.60" lengthAdjust="spacingAndGlyphs" stroke="#231f20" stroke-width="0.2">Non–ALCL TCL &amp; NK/TCL</text>
<path d="M386.30,248.57 H394.50" stroke="#c51236" stroke-width="1.5"/>
<text x="398.30" y="250.87" font-size="6.9" fill="#231f20" textLength="23.00" lengthAdjust="spacingAndGlyphs" stroke="#231f20" stroke-width="0.2">Burkitts</text>
<path d="M386.30,257.74 H394.50" stroke="#3db54a" stroke-width="1.5"/>
<text x="398.30" y="260.04" font-size="6.9" fill="#231f20" textLength="23.40" lengthAdjust="spacingAndGlyphs" stroke="#231f20" stroke-width="0.2">DLBCL</text>
<path d="M386.30,266.91 H394.50" stroke="#1d5590" stroke-width="1.5"/>
<text x="398.30" y="269.21" font-size="6.9" fill="#231f20" textLength="16.80" lengthAdjust="spacingAndGlyphs" stroke="#231f20" stroke-width="0.2">ALCL</text>
<path d="M386.30,276.08 H394.50" stroke="#f7941d" stroke-width="1.5"/>
<text x="398.30" y="278.38" font-size="6.9" fill="#231f20" textLength="23.80" lengthAdjust="spacingAndGlyphs" stroke="#231f20" stroke-width="0.2">PCNSL</text>
<text x="317.70" y="370.95" font-size="8.2" fill="#231f20" textLength="53.90" lengthAdjust="spacingAndGlyphs" stroke="#231f20" stroke-width="0.2">Log-rank p value</text>
<rect x="373.90" y="367.00" width="5.0" height="2.7" fill="#231f20" fill-opacity="0.62"/>
<text x="380.50" y="370.95" font-size="8.2" fill="#231f20" textLength="28.52" lengthAdjust="spacingAndGlyphs" stroke="#231f20" stroke-width="0.2">&lt;0.0001</text>
<text x="300.00" y="415.60" font-size="7.6" fill="#5e2a84" textLength="5.27" lengthAdjust="spacingAndGlyphs" stroke="none">N</text>
<rect x="307.00" y="412.00" width="5.00" height="2.5" fill="#5e2a84" fill-opacity="0.45"/>
<text x="320.60" y="415.80" font-size="7.6" fill="#5e2a84" text-anchor="middle" textLength="8.77" lengthAdjust="spacingAndGlyphs" stroke="none">26</text>
<text x="339.43" y="415.80" font-size="7.6" fill="#5e2a84" text-anchor="middle" textLength="8.77" lengthAdjust="spacingAndGlyphs" stroke="none">17</text>
<text x="358.26" y="415.80" font-size="7.6" fill="#5e2a84" text-anchor="middle" textLength="8.77" lengthAdjust="spacingAndGlyphs" stroke="none">15</text>
<text x="377.09" y="415.80" font-size="7.6" fill="#5e2a84" text-anchor="middle" textLength="8.77" lengthAdjust="spacingAndGlyphs" stroke="none">13</text>
<text x="395.92" y="415.80" font-size="7.6" fill="#5e2a84" text-anchor="middle" textLength="8.77" lengthAdjust="spacingAndGlyphs" stroke="none">13</text>
<text x="414.75" y="415.80" font-size="7.6" fill="#5e2a84" text-anchor="middle" textLength="8.77" lengthAdjust="spacingAndGlyphs" stroke="none">13</text>
<text x="433.58" y="415.80" font-size="7.6" fill="#5e2a84" text-anchor="middle" textLength="8.77" lengthAdjust="spacingAndGlyphs" stroke="none">10</text>
<text x="452.41" y="415.80" font-size="7.6" fill="#5e2a84" text-anchor="middle" textLength="4.38" lengthAdjust="spacingAndGlyphs" stroke="none">8</text>
<text x="471.24" y="415.80" font-size="7.6" fill="#5e2a84" text-anchor="middle" textLength="4.38" lengthAdjust="spacingAndGlyphs" stroke="none">7</text>
<text x="490.07" y="415.80" font-size="7.6" fill="#5e2a84" text-anchor="middle" textLength="4.38" lengthAdjust="spacingAndGlyphs" stroke="none">6</text>
<text x="300.00" y="424.90" font-size="7.6" fill="#c51236" textLength="5.27" lengthAdjust="spacingAndGlyphs" stroke="none">N</text>
<rect x="306.60" y="421.30" width="5.30" height="2.5" fill="#c51236" fill-opacity="0.45"/>
<text x="320.60" y="425.10" font-size="7.6" fill="#c51236" text-anchor="middle" textLength="13.15" lengthAdjust="spacingAndGlyphs" stroke="none">101</text>
<text x="339.43" y="425.10" font-size="7.6" fill="#c51236" text-anchor="middle" textLength="8.77" lengthAdjust="spacingAndGlyphs" stroke="none">65</text>
<text x="358.26" y="425.10" font-size="7.6" fill="#c51236" text-anchor="middle" textLength="8.77" lengthAdjust="spacingAndGlyphs" stroke="none">60</text>
<text x="377.09" y="425.10" font-size="7.6" fill="#c51236" text-anchor="middle" textLength="8.77" lengthAdjust="spacingAndGlyphs" stroke="none">53</text>
<text x="395.92" y="425.10" font-size="7.6" fill="#c51236" text-anchor="middle" textLength="8.77" lengthAdjust="spacingAndGlyphs" stroke="none">51</text>
<text x="414.75" y="425.10" font-size="7.6" fill="#c51236" text-anchor="middle" textLength="8.77" lengthAdjust="spacingAndGlyphs" stroke="none">48</text>
<text x="433.58" y="425.10" font-size="7.6" fill="#c51236" text-anchor="middle" textLength="8.77" lengthAdjust="spacingAndGlyphs" stroke="none">46</text>
<text x="452.41" y="425.10" font-size="7.6" fill="#c51236" text-anchor="middle" textLength="8.77" lengthAdjust="spacingAndGlyphs" stroke="none">43</text>
<text x="471.24" y="425.10" font-size="7.6" fill="#c51236" text-anchor="middle" textLength="8.77" lengthAdjust="spacingAndGlyphs" stroke="none">40</text>
<text x="490.07" y="425.10" font-size="7.6" fill="#c51236" text-anchor="middle" textLength="8.77" lengthAdjust="spacingAndGlyphs" stroke="none">38</text>
<text x="300.00" y="434.20" font-size="7.6" fill="#3db54a" textLength="5.27" lengthAdjust="spacingAndGlyphs" stroke="none">N</text>
<rect x="306.60" y="430.60" width="5.30" height="2.5" fill="#3db54a" fill-opacity="0.45"/>
<text x="320.60" y="434.40" font-size="7.6" fill="#3db54a" text-anchor="middle" textLength="13.15" lengthAdjust="spacingAndGlyphs" stroke="none">500</text>
<text x="339.43" y="434.40" font-size="7.6" fill="#3db54a" text-anchor="middle" textLength="13.15" lengthAdjust="spacingAndGlyphs" stroke="none">324</text>
<text x="358.26" y="434.40" font-size="7.6" fill="#3db54a" text-anchor="middle" textLength="13.15" lengthAdjust="spacingAndGlyphs" stroke="none">270</text>
<text x="377.09" y="434.40" font-size="7.6" fill="#3db54a" text-anchor="middle" textLength="13.15" lengthAdjust="spacingAndGlyphs" stroke="none">224</text>
<text x="395.92" y="434.40" font-size="7.6" fill="#3db54a" text-anchor="middle" textLength="13.15" lengthAdjust="spacingAndGlyphs" stroke="none">199</text>
<text x="414.75" y="434.40" font-size="7.6" fill="#3db54a" text-anchor="middle" textLength="13.15" lengthAdjust="spacingAndGlyphs" stroke="none">190</text>
<text x="433.58" y="434.40" font-size="7.6" fill="#3db54a" text-anchor="middle" textLength="13.15" lengthAdjust="spacingAndGlyphs" stroke="none">178</text>
<text x="452.41" y="434.40" font-size="7.6" fill="#3db54a" text-anchor="middle" textLength="13.15" lengthAdjust="spacingAndGlyphs" stroke="none">171</text>
<text x="471.24" y="434.40" font-size="7.6" fill="#3db54a" text-anchor="middle" textLength="13.15" lengthAdjust="spacingAndGlyphs" stroke="none">161</text>
<text x="490.07" y="434.40" font-size="7.6" fill="#3db54a" text-anchor="middle" textLength="13.15" lengthAdjust="spacingAndGlyphs" stroke="none">147</text>
<text x="508.90" y="434.40" font-size="7.6" fill="#3db54a" text-anchor="middle" textLength="4.38" lengthAdjust="spacingAndGlyphs" stroke="none">4</text>
<text x="300.00" y="443.50" font-size="7.6" fill="#1d5590" textLength="5.27" lengthAdjust="spacingAndGlyphs" stroke="none">N</text>
<rect x="307.00" y="439.90" width="5.00" height="2.5" fill="#1d5590" fill-opacity="0.45"/>
<text x="320.60" y="443.70" font-size="7.6" fill="#1d5590" text-anchor="middle" textLength="8.77" lengthAdjust="spacingAndGlyphs" stroke="none">26</text>
<text x="339.43" y="443.70" font-size="7.6" fill="#1d5590" text-anchor="middle" textLength="8.77" lengthAdjust="spacingAndGlyphs" stroke="none">17</text>
<text x="358.26" y="443.70" font-size="7.6" fill="#1d5590" text-anchor="middle" textLength="8.77" lengthAdjust="spacingAndGlyphs" stroke="none">12</text>
<text x="377.09" y="443.70" font-size="7.6" fill="#1d5590" text-anchor="middle" textLength="4.38" lengthAdjust="spacingAndGlyphs" stroke="none">8</text>
<text x="395.92" y="443.70" font-size="7.6" fill="#1d5590" text-anchor="middle" textLength="4.38" lengthAdjust="spacingAndGlyphs" stroke="none">8</text>
<text x="414.75" y="443.70" font-size="7.6" fill="#1d5590" text-anchor="middle" textLength="4.38" lengthAdjust="spacingAndGlyphs" stroke="none">8</text>
<text x="433.58" y="443.70" font-size="7.6" fill="#1d5590" text-anchor="middle" textLength="4.38" lengthAdjust="spacingAndGlyphs" stroke="none">6</text>
<text x="452.41" y="443.70" font-size="7.6" fill="#1d5590" text-anchor="middle" textLength="4.38" lengthAdjust="spacingAndGlyphs" stroke="none">6</text>
<text x="471.24" y="443.70" font-size="7.6" fill="#1d5590" text-anchor="middle" textLength="4.38" lengthAdjust="spacingAndGlyphs" stroke="none">6</text>
<text x="490.07" y="443.70" font-size="7.6" fill="#1d5590" text-anchor="middle" textLength="4.38" lengthAdjust="spacingAndGlyphs" stroke="none">6</text>
<text x="300.00" y="452.90" font-size="7.6" fill="#f7941d" textLength="5.27" lengthAdjust="spacingAndGlyphs" stroke="none">N</text>
<rect x="307.00" y="449.30" width="5.00" height="2.5" fill="#f7941d" fill-opacity="0.45"/>
<text x="320.60" y="453.10" font-size="7.6" fill="#f7941d" text-anchor="middle" textLength="8.77" lengthAdjust="spacingAndGlyphs" stroke="none">64</text>
<text x="339.43" y="453.10" font-size="7.6" fill="#f7941d" text-anchor="middle" textLength="8.77" lengthAdjust="spacingAndGlyphs" stroke="none">24</text>
<text x="358.26" y="453.10" font-size="7.6" fill="#f7941d" text-anchor="middle" textLength="8.77" lengthAdjust="spacingAndGlyphs" stroke="none">18</text>
<text x="377.09" y="453.10" font-size="7.6" fill="#f7941d" text-anchor="middle" textLength="8.77" lengthAdjust="spacingAndGlyphs" stroke="none">14</text>
<text x="395.92" y="453.10" font-size="7.6" fill="#f7941d" text-anchor="middle" textLength="8.77" lengthAdjust="spacingAndGlyphs" stroke="none">13</text>
<text x="414.75" y="453.10" font-size="7.6" fill="#f7941d" text-anchor="middle" textLength="8.18" lengthAdjust="spacingAndGlyphs" stroke="none">11</text>
<text x="433.58" y="453.10" font-size="7.6" fill="#f7941d" text-anchor="middle" textLength="8.18" lengthAdjust="spacingAndGlyphs" stroke="none">11</text>
<text x="452.41" y="453.10" font-size="7.6" fill="#f7941d" text-anchor="middle" textLength="4.38" lengthAdjust="spacingAndGlyphs" stroke="none">9</text>
<text x="471.24" y="453.10" font-size="7.6" fill="#f7941d" text-anchor="middle" textLength="4.38" lengthAdjust="spacingAndGlyphs" stroke="none">9</text>
<text x="490.07" y="453.10" font-size="7.6" fill="#f7941d" text-anchor="middle" textLength="4.38" lengthAdjust="spacingAndGlyphs" stroke="none">9</text>
</svg></div></body></html>
